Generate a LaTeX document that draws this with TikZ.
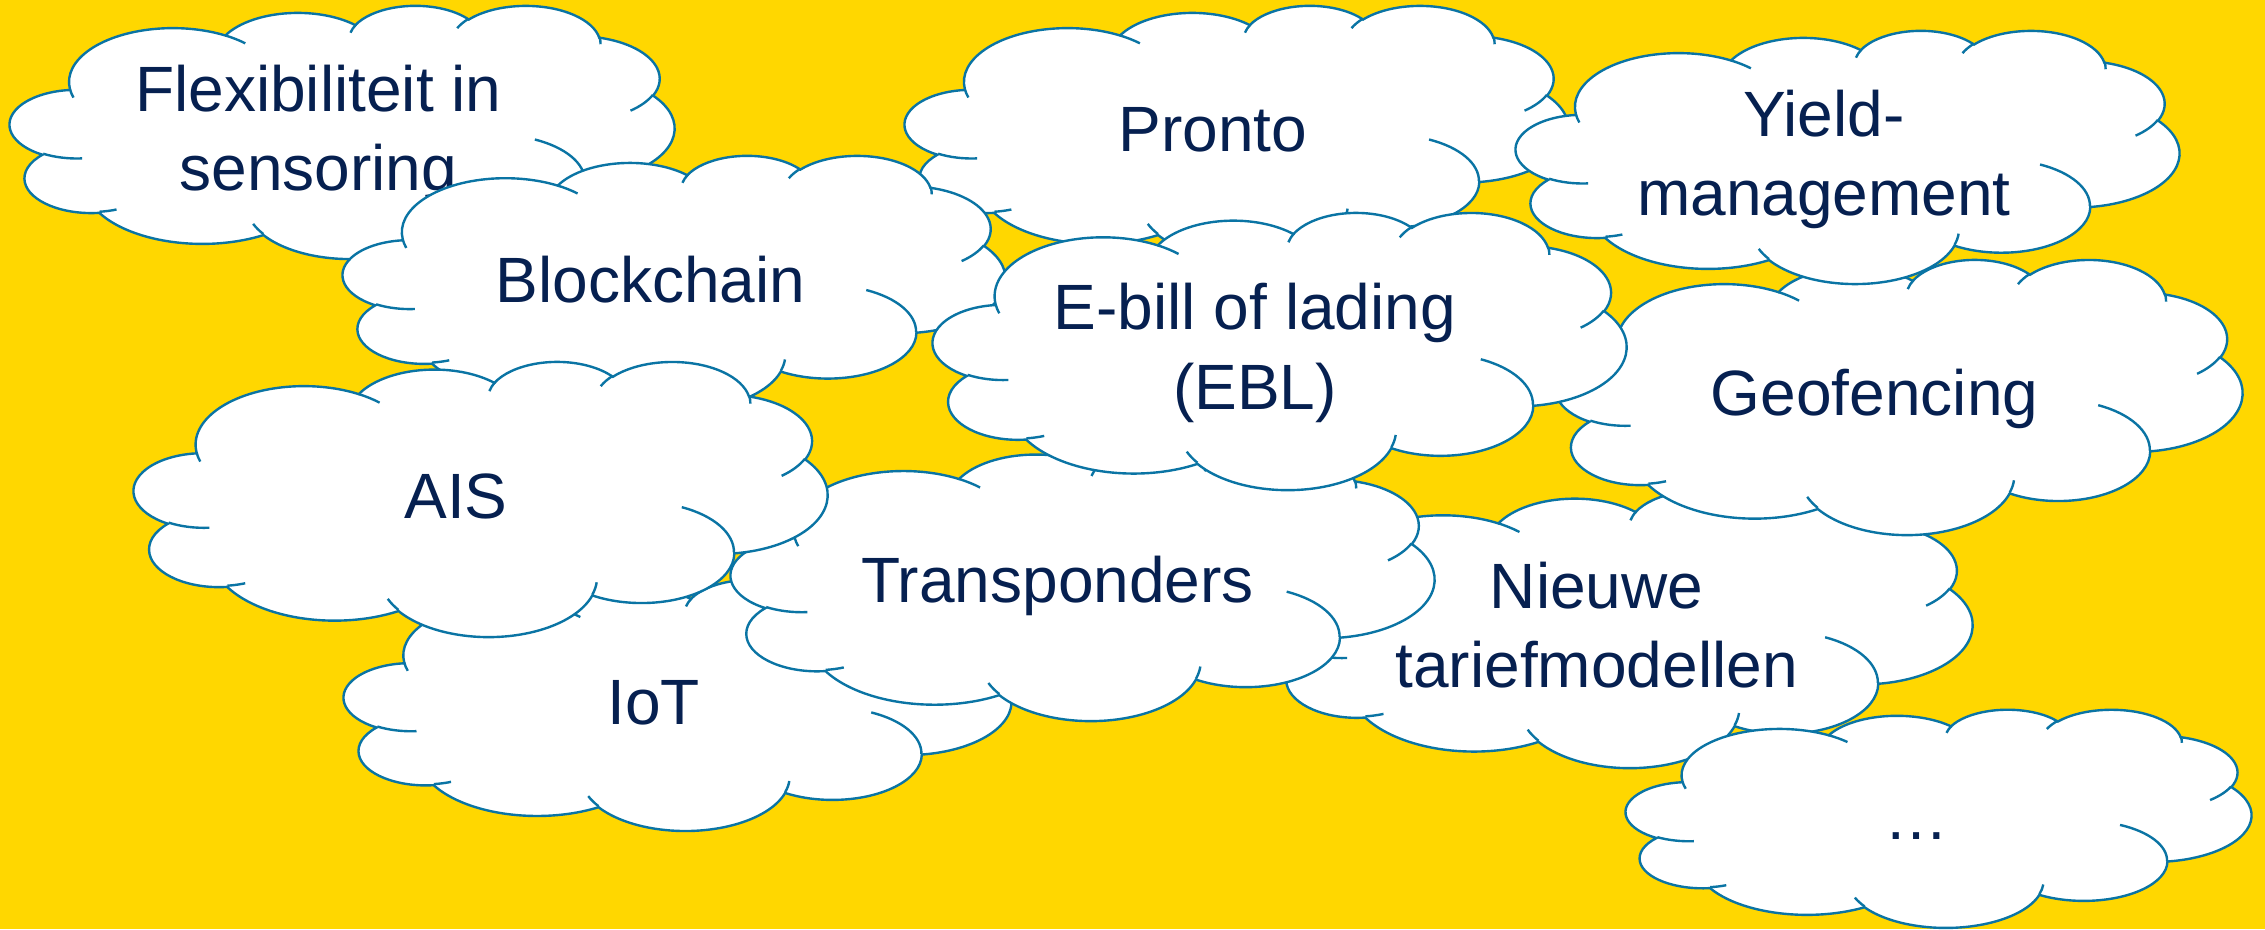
\documentclass[tikz,border=0pt]{standalone}
\usepackage{fontspec}
\setmainfont{Liberation Sans}
\usetikzlibrary{positioning}

\definecolor{bgyellow}{RGB}{255,215,0}
\definecolor{cloudline}{RGB}{10,116,164}
\definecolor{cloudtext}{RGB}{6,32,80}

\newcommand\cloudfont{\fontsize{18.21pt}{21.62pt}\selectfont}
\newcommand\cloudstrut{\rule[-0.12cm]{0pt}{0.76cm}}

% arc of the cloud outline: visual angles -> parametric angles
\newcommand\cloudarc[5]{%
  \pgfmathsetmacro\cS{atan2(#2*sin(#4),#3*cos(#4))}%
  \pgfmathsetmacro\cE{atan2(#2*sin(#4+#5),#3*cos(#4+#5))}%
  \pgfmathsetmacro\cD{#5+mod((\cE)-(\cS)-(#5)+540,360)-180}%
  \xdef#1{arc[x radius=#2,y radius=#3,start angle=\cS,delta angle=\cD]}%
}
%% outline
\cloudarc\oA{6.753}{9.19}{-190.4875}{123.7805}
\cloudarc\oB{5.333}{7.267}{-144.1024}{89.9452}
\cloudarc\oC{4.365}{5.945}{-145.8079}{99.7230}
\cloudarc\oD{4.857}{6.595}{-130.9861}{117.2417}
\cloudarc\oE{5.333}{7.273}{-78.7089}{109.0269}
\cloudarc\oF{6.775}{9.22}{-46.2673}{130.2690}
\cloudarc\oG{5.785}{7.867}{0.6250}{114.0333}
\cloudarc\oH{6.752}{9.215}{22.4516}{115.1726}
\cloudarc\oI{7.72}{10.543}{66.2426}{75.7110}
\cloudarc\oJ{4.36}{5.918}{-274.9421}{146.7356}
\cloudarc\oK{4.345}{5.945}{-246.8285}{152.5189}
%% inner strokes
\cloudarc\iA{4.345}{5.945}{86.742}{26.4295}
\cloudarc\iB{4.36}{5.918}{73.6105}{11.4475}
\cloudarc\iC{6.752}{9.215}{137.6242}{14.0811}
\cloudarc\iD{6.752}{9.215}{6.4533}{15.9984}
\cloudarc\iE{5.785}{7.867}{-70.2924}{70.9174}
\cloudarc\iF{5.333}{7.273}{30.318}{27.7515}
\cloudarc\iG{4.857}{6.595}{-13.7443}{14.8589}
\cloudarc\iH{4.857}{6.595}{-149.1815}{18.1954}
\cloudarc\iI{4.365}{5.945}{-163.4943}{17.6864}
\cloudarc\iJ{6.753}{9.19}{-66.707}{12.3194}
\cloudarc\iK{6.753}{9.19}{157.6544}{11.8582}

\newcommand\cloudpath{%
  \filldraw[cloud edge,fill=white] (3.9,14.37)
    \oA\oB\oC\oD\oE\oF\oG\oH\oI\oJ\oK -- cycle;
  \draw[cloud edge] (4.693,26.177) \iA (6.928,34.899) \iB
    (16.478,39.09) \iC (28.827,34.751) \iD (34.129,22.954) \iE
    (41.798,15.354) \iF (38.324,5.426) \iG (29.078,3.952) \iH
    (22.141,4.72) \iI (14,5.192) \iJ (4.127,15.789) \iK;
}

\begin{document}
\begin{tikzpicture}
[x=0.01cm,y=-0.01cm,
  cloud edge/.style={draw=cloudline,line width=0.68pt},%
  cloud text/.style={font=\cloudfont,text=cloudtext,align=center,inner sep=0pt}]
\useasboundingbox (0,0) rectangle (2265,929);
\fill[bgyellow] (0,0) rectangle (2265,929);
%% clouds, back to front: name/left/top/width/height/text
\foreach \nm/\cl/\ct/\cw/\ch/\ctext in {
  nieuwe/1271/490/701/277/{Nieuwe\\tariefmodellen},
  iot/344/579/667/251/{IoT},
  flex/10/5/664/253/{Flexibiliteit in\\sensoring},
  pronto/905/5/663/253/{Pronto},
  geo/1556/259/686/275/{Geofencing},
  transp/731/446/703/274/{Transponders},
  blockchain/343/155/662/254/{Blockchain},
  ais/134/361/693/275/{AIS},
  yield/1516/30/663/253/{Yield-\\management},
  ebl/933/212/693/277/{E-bill of lading\\(EBL)},
  more/1626/709/625/218/{…}}
{
  \begin{scope}[shift={(\cl,\ct)},x=1cm,y=1cm,xscale=\cw/4320,yscale=-\ch/4320]
    \cloudpath
  \end{scope}
  \node[cloud text] (\nm) at (\cl+0.4645*\cw,\ct+0.477*\ch) {\cloudstrut\ctext\cloudstrut};
}
\end{tikzpicture}
\end{document}
